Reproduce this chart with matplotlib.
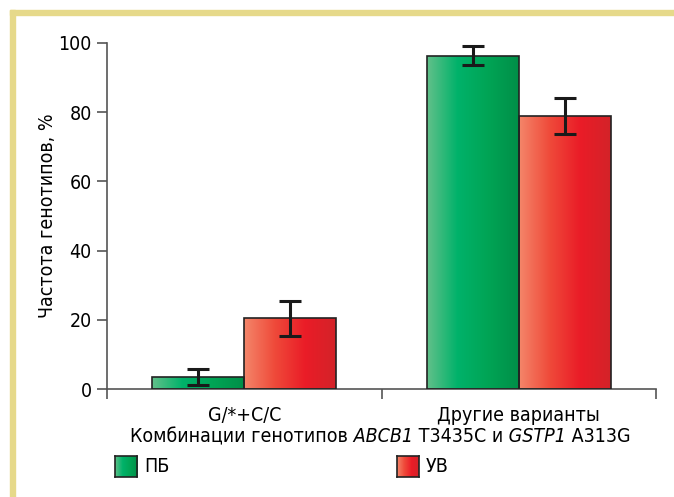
import numpy as np
import matplotlib
matplotlib.use('Agg')
import matplotlib.pyplot as plt
from matplotlib.colors import LinearSegmentedColormap
from matplotlib.patches import Rectangle
from matplotlib.offsetbox import TextArea, HPacker, AnchoredOffsetbox

# data
categories = ['G/*+C/C', 'Другие варианты']
groups = ['ПБ', 'УВ']
pb_values = [3.6, 96.3]
pb_errors = [2.4, 2.7]
uv_values = [20.5, 78.9]
uv_errors = [5.0, 5.1]

plt.rcParams['font.family'] = ['DejaVu Sans']
plt.rcParams['font.stretch'] = 'condensed'

green_cmap = LinearSegmentedColormap.from_list(
    'g', ['#62c08a', '#00b26a', '#00a455', '#008f48'])
red_cmap = LinearSegmentedColormap.from_list(
    'r', ['#f4866a', '#ef4a3a', '#ea1c27', '#d32329'])
grad = np.linspace(0, 1, 256).reshape(1, -1)

fig = plt.figure(figsize=(6.74, 4.97), dpi=100)
ax = fig.add_axes([107/674, 1-389.3/497, 549/674, 346.6/497])

x = np.arange(len(categories))
w = 0.335

def gradient_bars(xpos, vals, errs, cmap):
    bars = ax.bar(xpos, vals, w, facecolor='none', edgecolor='#222222',
                  linewidth=1.2, zorder=3)
    for b in bars:
        x0, y0 = b.get_x(), b.get_y()
        im = ax.imshow(grad, cmap=cmap, aspect='auto', zorder=2,
                       extent=[x0, x0 + b.get_width(), y0, y0 + b.get_height()])
        im.set_clip_path(b)
    ax.errorbar(xpos, vals, yerr=errs, fmt='none', ecolor='#1a1a1a',
                elinewidth=2.2, capsize=8, capthick=2.2, zorder=4)

gradient_bars(x - w/2, pb_values, pb_errors, green_cmap)
gradient_bars(x + w/2, uv_values, uv_errors, red_cmap)

ax.set_xlim(-0.5, 1.5)
ax.set_ylim(0, 100)
ax.set_yticks([0, 20, 40, 60, 80, 100])
ax.set_xticks(x)
ax.set_xticklabels(categories, fontsize=14)
ax.set_xticks([-0.5, 0.5, 1.5], minor=True)
ax.tick_params(axis='x', which='major', length=0, pad=12)
ax.tick_params(axis='x', which='minor', length=7, width=1.2, color='#555555')
ax.tick_params(axis='y', length=7, width=1.2, color='#555555', labelsize=14, pad=4)
for s in ['top', 'right']:
    ax.spines[s].set_visible(False)
for s in ['left', 'bottom']:
    ax.spines[s].set_color('#555555')
    ax.spines[s].set_linewidth(1.2)
ax.set_ylabel('Частота генотипов, %', fontsize=14, labelpad=1)

# x-axis title with italic gene names
parts = [('Комбинации генотипов', 'normal'), (' ABCB1', 'italic'),
         (' T3435C и', 'normal'), (' GSTP1', 'italic'), (' A313G', 'normal')]
boxes = [TextArea(t, textprops=dict(fontsize=14, fontstyle=st)) for t, st in parts]
pack = HPacker(children=boxes, pad=0, sep=0, align='baseline')
anch = AnchoredOffsetbox(loc='center', child=pack, frameon=False, pad=0,
                         bbox_to_anchor=(380/674, 1 - 437/497),
                         bbox_transform=fig.transFigure, borderpad=0)
fig.add_artist(anch)

# yellow frame
fig.patches.append(Rectangle((10/674, 0), 5/674, 1 - 10/497, transform=fig.transFigure,
                             color='#e6d98a', zorder=0))
fig.patches.append(Rectangle((10/674, 1 - 15/497), 1, 5/497, transform=fig.transFigure,
                             color='#e6d98a', zorder=0))

# legend with gradient swatches
for (lx, cmap, name) in [(115, green_cmap, groups[0]), (397, red_cmap, groups[1])]:
    sw = fig.add_axes([lx/674, 1 - 477/497, 22/674, 21/497])
    sw.imshow(grad, cmap=cmap, aspect='auto')
    sw.set_xticks([])
    sw.set_yticks([])
    for s in sw.spines.values():
        s.set_color('#222222')
        s.set_linewidth(1.2)
    fig.text((lx + 29)/674, 1 - 467/497, name, fontsize=14, va='center', ha='left')

fig.savefig('out.png', dpi=100)
